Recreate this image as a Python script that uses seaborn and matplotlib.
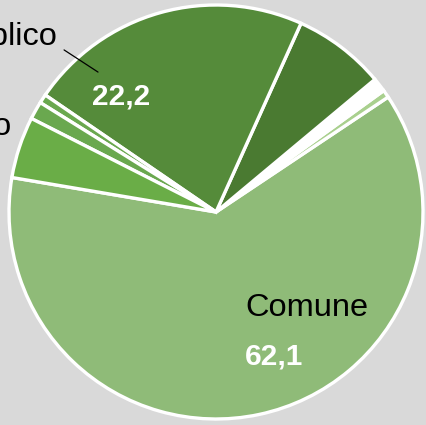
import matplotlib
matplotlib.use("Agg")
import matplotlib.pyplot as plt
import seaborn as sns

# shares (%) counterclockwise starting from "Comune"
categories = ["Comune", "Altro 1", "Altro 2", "Altro 3", "Pubblico", "Altro 4", "Altro 5", "Privato"]
values = [62.1, 0.6, 1.1, 7.2, 22.2, 0.7, 1.4, 4.8]
colors = ["#8fbb78", "#a9d08e", "#ffffff", "#4a7a31", "#558b3a", "#6aa84f", "#6aa84f", "#6aad47"]

sns.set_style("white", {"axes.facecolor": "#d9d9d9", "figure.facecolor": "#d9d9d9"})
plt.rcParams["font.family"] = ["Liberation Sans", "DejaVu Sans"]

fig = plt.figure(figsize=(4.26, 4.25), dpi=100)
ax = fig.add_axes([0, 0, 1, 1])
ax.set_facecolor("#d9d9d9")

ax.pie(values, colors=colors, startangle=170.4, counterclock=True,
       wedgeprops={"edgecolor": "white", "linewidth": 2.4})

ax.set_xlim(-1.0435, 1.0145)
ax.set_ylim(-1.029, 1.0242)
ax.set_aspect("auto")
ax.axis("off")

ax.text(0.14, -0.464, "Comune", ha="left", va="center", fontsize=23.4, color="black")
ax.text(0.14, -0.70, "62,1", ha="left", va="center", fontsize=21.5, color="white", fontweight="bold")
ax.text(-0.457, 0.56, "22,2", ha="center", va="center", fontsize=21.5, color="white", fontweight="bold")
ax.text(-0.768, 0.807, "Pubblico", ha="right", va="baseline", fontsize=23.4, color="black")
ax.text(-0.986, 0.372, "Privato", ha="right", va="baseline", fontsize=23.4, color="black")
ax.plot([-0.734, -0.570], [0.783, 0.676], color="black", linewidth=0.9)

fig.savefig("out.png", dpi=100, facecolor="#d9d9d9")
